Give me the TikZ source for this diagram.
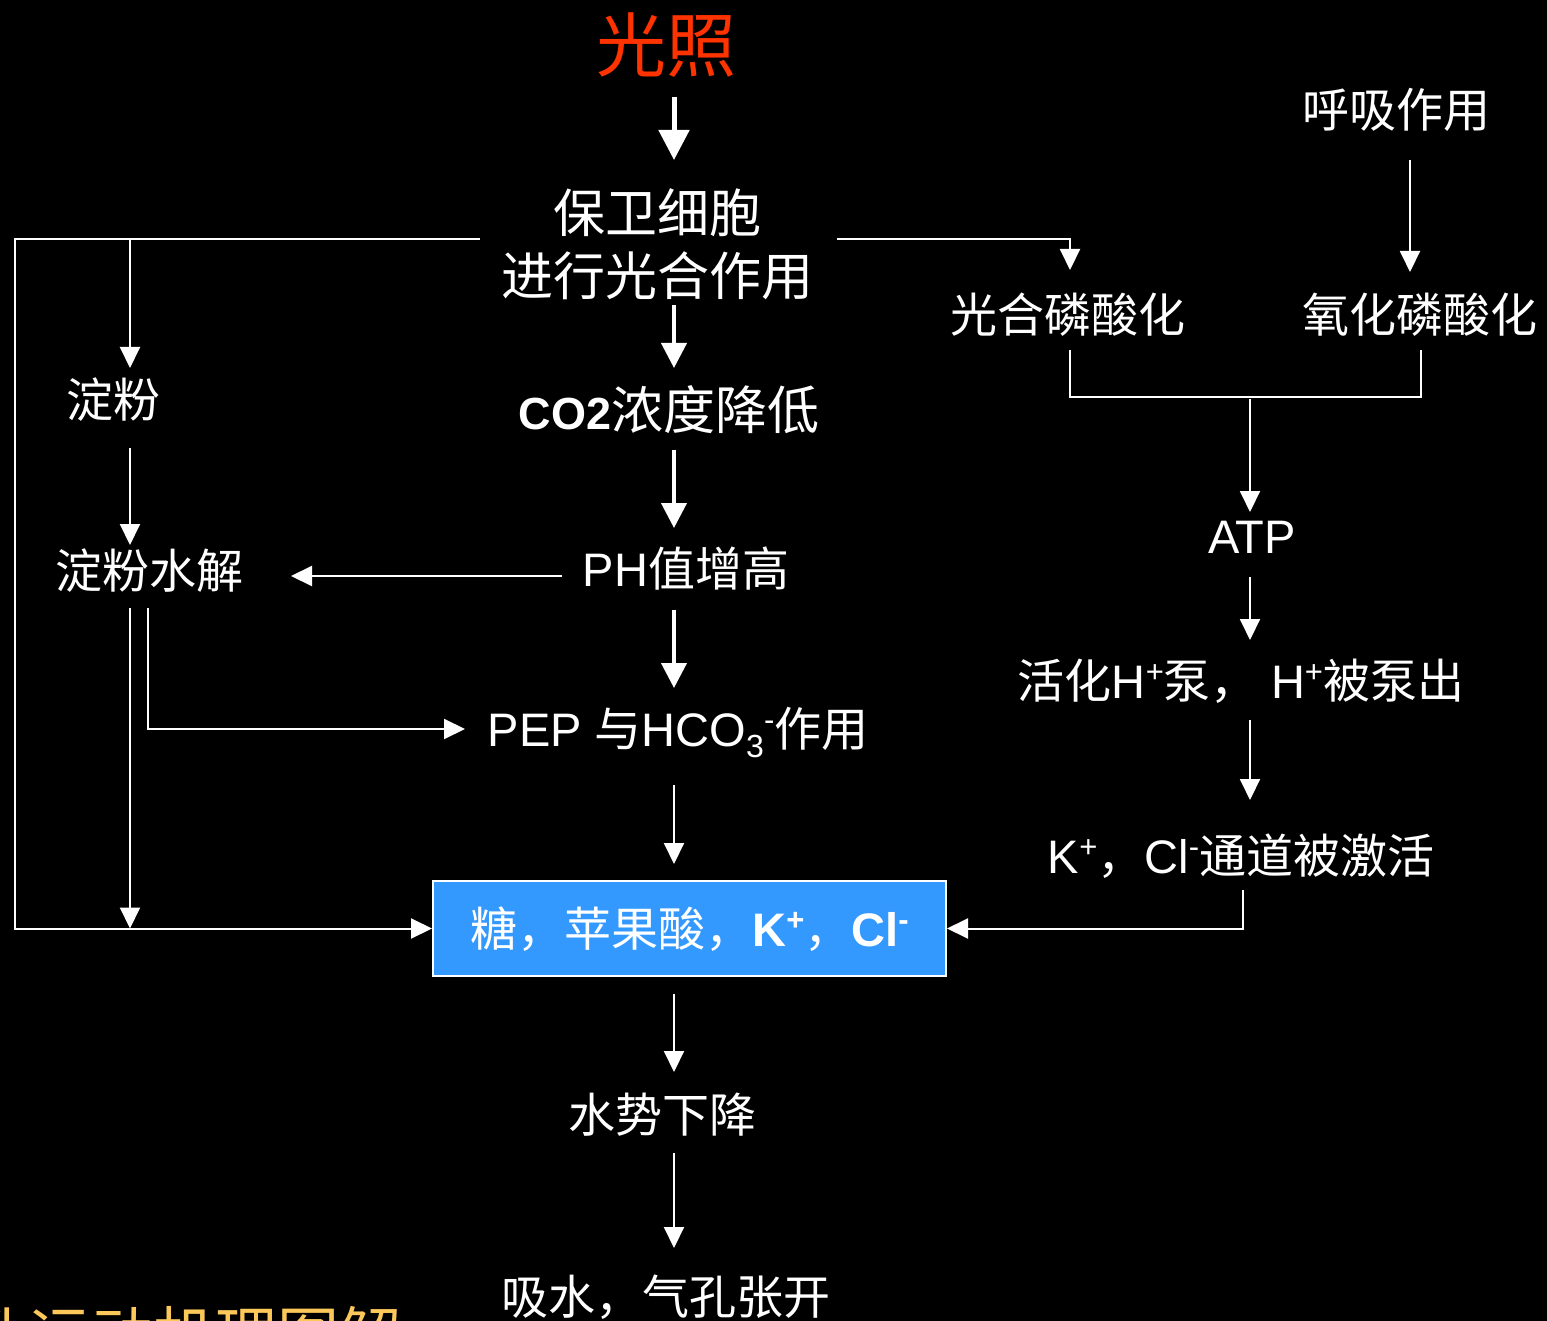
\documentclass[tikz,border=0pt]{standalone}
\usepackage{fontspec}
\setmainfont{Liberation Sans}
\newfontfamily\cjk{Noto Sans CJK SC}
\usetikzlibrary{arrows.meta,calc}
\definecolor{boxblue}{RGB}{51,153,255}
\definecolor{lightred}{RGB}{255,51,0}
\definecolor{titleyellow}{RGB}{252,200,90}
\newcommand{\zh}[1]{{\cjk #1}}
\newcommand{\fs}[1]{\fontsize{#1}{#1}\selectfont}
\newcommand{\sps}[1]{\raisebox{0.34em}{\fontsize{31}{31}\selectfont #1}}
\newcommand{\sbs}[1]{\raisebox{-0.22em}{\fontsize{32}{32}\selectfont #1}}
\tikzset{
  lbl/.style={text=white, inner sep=0pt, text height=41.4pt, text depth=5.6pt, font=\fs{47}},
  lblb/.style={text=white, inner sep=0pt, text height=45.8pt, text depth=6.2pt, font=\fs{52}},
  lblt/.style={inner sep=0pt, text height=61.6pt, text depth=8.4pt, font=\fs{70}},
  lbly/.style={inner sep=0pt, text height=54.6pt, text depth=7.4pt, font=\fs{62}},
  ln/.style={draw=white, line width=2pt},
  arr/.style={ln, -{Triangle[width=20pt,length=21pt]}},
  barr/.style={draw=white, line width=4pt, -{Triangle[width=25pt,length=25pt]}},
  bigarr/.style={draw=white, line width=5pt, -{Triangle[width=30pt,length=30pt]}},
}
\begin{document}
\begin{tikzpicture}[x=1pt,y=-1pt]
\fill[black] (0,0) rectangle (1547,1321);
\useasboundingbox (0,0) rectangle (1547,1321);
\begin{scope}
\clip (0,0) rectangle (1547,1321);
% nodes
\node[lblt, text=lightred] (guang) at (666,45) {\zh{光照}};
\node[text=white, inner sep=0pt, align=center, font=\fontsize{52}{63}\selectfont] (baowei) at (657,244) {\zh{保卫细胞}\\\zh{进行光合作用}};
\node[lbl] (huxi) at (1396,110) {\zh{呼吸作用}};
\node[lbl] (gh) at (1068,315) {\zh{光合磷酸化}};
\node[lbl] (yh) at (1420,315) {\zh{氧化磷酸化}};
\node[lbl] (dianfen) at (113,400) {\zh{淀粉}};
\node[lblb] (co2) at (669,410) {{\fs{45}\bfseries CO2}\zh{浓度降低}};
\node[lbl] (atp) at (1252,536) {ATP};
\node[lbl] (ph) at (686,569) {PH\zh{值增高}};
\node[lbl] (dfsj) at (149,571) {\zh{淀粉水解}};
\node[lbl] (huohua) at (1241,681) {\zh{活化}H\sps{+}\zh{泵，} H\sps{+}\zh{被泵出}};
\node[lbl] (pep) at (678,729) {PEP \zh{与}HCO\sbs{3}\sps{-}\zh{作用}};
\node[lbl] (kcl) at (1241,856) {K\sps{+}\zh{，}Cl\sps{-}\zh{通道被激活}};
\node[draw=white, line width=2pt, fill=boxblue, minimum width=513pt, minimum height=95pt, inner sep=0pt] (box) at (689.5,928.5) {};
\node[lbl] (boxtext) at (box.center) {\zh{糖，苹果酸，}{\bfseries K\sps{+}}\zh{，}{\bfseries Cl\sps{-}}};
\node[lbl] (shuishi) at (662,1115) {\zh{水势下降}};
\node[lbl] (xishui) at (666,1297) {\zh{吸水，气孔张开}};
\node[lbly, text=titleyellow, anchor=east] (title) at (402,1335) {\zh{气孔运动机理图解}};
% connectors
\draw[bigarr] ($(guang)+(8,52)$) -- ($(baowei)+(17,-84)$);
\draw[arr] ($(baowei)+(-177,-5)$) -- (15,239) -- (15,928.5) -- (box.west);
\draw[arr] ($(dianfen)+(17,-161)$) -- ($(dianfen)+(17,-32)$);
\draw[arr] ($(baowei)+(180,-5)$) -| ($(gh)+(2,-45)$);
\draw[arr] ($(huxi)+(14,50)$) -- ($(yh)+(-10,-43)$);
\draw[ln] ($(gh)+(2,35)$) -- ($(gh)+(2,82)$) -- ($(yh)+(1,82)$) -- ($(yh)+(1,35)$);
\coordinate (join) at (1250,399);
\draw[arr] (join) -- ($(atp)+(-2,-24)$);
\draw[arr] ($(atp)+(-2,41)$) -- ($(huohua)+(9,-41)$);
\draw[arr] ($(huohua)+(9,39)$) -- ($(kcl)+(9,-56)$);
\draw[arr] ($(kcl)+(2,34)$) |- (box.east);
\draw[barr] ($(baowei)+(17,61)$) -- ($(co2)+(5,-42)$);
\draw[barr] ($(co2)+(5,40)$) -- ($(ph)+(-12,-41)$);
\draw[arr] ($(ph)+(-124,7)$) -- ($(dfsj)+(142,5)$);
\draw[barr] ($(ph)+(-12,41)$) -- ($(pep)+(-4,-41)$);
\draw[arr] ($(dianfen)+(17,48)$) -- ($(dfsj)+(-19,-26)$);
\draw[arr] ($(dfsj)+(-19,37)$) coordinate (s) -- (s |- box.west);
\draw[arr] ($(dfsj)+(-1,37)$) |- ($(pep)+(-213,0)$);
\draw[arr] ($(pep)+(-4,56)$) -- ($(box.north)+(-15.5,-16)$);
\draw[arr] ($(box.south)+(-15.5,17)$) -- ($(shuishi)+(12,-43)$);
\draw[arr] ($(shuishi)+(12,38)$) -- ($(xishui)+(8,-49)$);
\end{scope}
\end{tikzpicture}
\end{document}
